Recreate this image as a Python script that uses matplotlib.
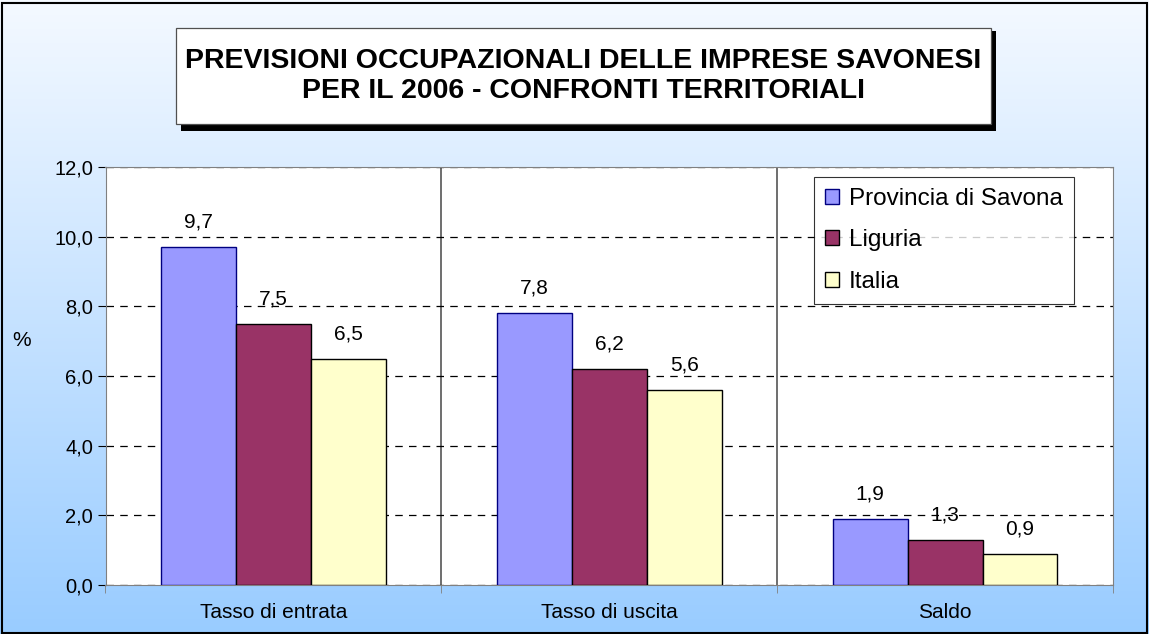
import numpy as np
import matplotlib.pyplot as plt
from matplotlib.colors import LinearSegmentedColormap
from matplotlib.patches import Rectangle

# dati
categorie = ["Tasso di entrata", "Tasso di uscita", "Saldo"]
serie = ["Provincia di Savona", "Liguria", "Italia"]
savona = [9.7, 7.8, 1.9]
liguria = [7.5, 6.2, 1.3]
italia = [6.5, 5.6, 0.9]
y_ticks = [0, 2, 4, 6, 8, 10, 12]

colori = ["#9999FF", "#993366", "#FFFFCC"]
bordi = ["#000080", "#000000", "#000000"]

plt.rcParams["font.family"] = ["Liberation Sans", "DejaVu Sans"]

W, H = 1149, 634
fig = plt.figure(figsize=(W / 100, H / 100), dpi=100)

# sfondo sfumato
bg = fig.add_axes([0, 0, 1, 1])
cmap = LinearSegmentedColormap.from_list("sf", ["#99CCFF", "#F4F9FF"])
grad = np.linspace(0, 1, 256).reshape(-1, 1)
bg.imshow(grad, aspect="auto", cmap=cmap, origin="lower", extent=[0, 1, 0, 1])
bg.add_patch(Rectangle((2 / W, 1 / H), 1 - 4 / W, 1 - 4 / H, fill=False, ec="black", lw=1.5,
                       transform=bg.transAxes))
bg.set_xlim(0, 1)
bg.set_ylim(0, 1)
bg.set_axis_off()

ax = fig.add_axes([105.5 / W, 1 - 585 / H, (1113 - 105.5) / W, (585 - 167) / H])
ax.set_facecolor("white")

x = np.arange(len(categorie))
w = 0.223
valori = [savona, liguria, italia]
for i, (v, nome) in enumerate(zip(valori, serie)):
    barre = ax.bar(x + (i - 1) * w, v, w, color=colori[i], edgecolor=bordi[i],
                   linewidth=1, label=nome, zorder=3)
    for b, val in zip(barre, v):
        ax.annotate(f"{val:.1f}".replace(".", ","), (b.get_x() + w / 2, val),
                    xytext=(0, 14), textcoords="offset points", ha="center",
                    va="baseline", fontsize=15, zorder=4)

ax.set_xlim(-0.5, 2.5)
ax.set_ylim(0, 12)
ax.set_yticks(y_ticks)
ax.set_yticklabels([f"{t:.1f}".replace(".", ",") for t in y_ticks], fontsize=14.5)
ax.yaxis.grid(True, linestyle=(0, (6, 5)), color="black", lw=0.9, zorder=1)
for b in [0.5, 1.5]:
    ax.axvline(b, color="#555555", lw=1.2, zorder=1)

ax.set_xticks(x)
ax.set_xticklabels(categorie, fontsize=15)
ax.tick_params(axis="x", length=0, pad=13)
ax.set_xticks([-0.5, 0.5, 1.5, 2.5], minor=True)
ax.tick_params(axis="x", which="minor", length=6, color="#808080")
ax.tick_params(axis="y", length=6, pad=3)
for s in ax.spines.values():
    s.set_color("#808080")

ax.set_ylabel("%", rotation=0, fontsize=15, ha="center", va="center")
ax.yaxis.set_label_coords((22 - 105.5) / 1007.5, (585 - 340) / 418)

leg = ax.legend(loc="upper right", bbox_to_anchor=((1074 - 105.5) / 1007.5, (585 - 177) / 418),
                borderaxespad=0, fontsize=17.5, frameon=True, fancybox=False,
                edgecolor="black", handlelength=0.58, handleheight=0.58,
                handletextpad=0.42, labelspacing=0.8, borderpad=0.45)
leg.get_frame().set_linewidth(0.8)
leg.set_zorder(5)

# titolo con ombra
bg.add_patch(Rectangle((181 / W, 1 - 131 / H), 815 / W, 100 / H,
                       fc="black", ec="none", transform=bg.transAxes))
bg.add_patch(Rectangle((176 / W, 1 - 124 / H), 815 / W, 96 / H,
                       fc="white", ec="#505050", lw=0.9, transform=bg.transAxes))
fig.text(583.5 / W, 1 - 76 / H,
         "PREVISIONI OCCUPAZIONALI DELLE IMPRESE SAVONESI\nPER IL 2006 - CONFRONTI TERRITORIALI",
         ha="center", va="center", fontsize=20.5, fontweight="bold", linespacing=1.25)

plt.savefig("out.png", dpi=100)
